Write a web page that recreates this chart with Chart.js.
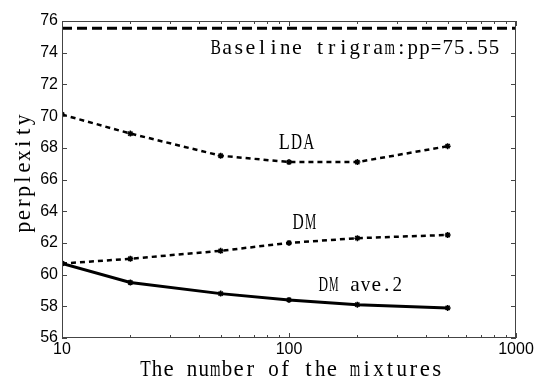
<!DOCTYPE html>
<html>
<head>
<meta charset="utf-8">
<script src="https://cdn.jsdelivr.net/npm/chart.js@4.4.1/dist/chart.umd.min.js"></script>
<style>
  html, body { margin: 0; padding: 0; background: #fff; }
  #wrap { width: 540px; height: 379px; }
</style>
</head>
<body>
<div id="wrap"><canvas id="chart"></canvas></div>
<script>
// Data
const mixtures = [10, 20, 50, 100, 200, 500];
const ldaValues = [70.1, 68.9, 67.5, 67.1, 67.1, 68.1];
const dmValues = [60.7, 61.0, 61.5, 62.0, 62.3, 62.5];
const dmAve2Values = [60.7, 59.5, 58.8, 58.4, 58.1, 57.9];
const baselineX = [10, 1000];
const baselineValue = 75.55;
const yTicks = [56, 58, 60, 62, 64, 66, 68, 70, 72, 74, 76];
const xTickLabels = [10, 100, 1000];

// Text annotations, anchored (centre, baseline) in data units
const annotations = [
    { text: 'Baseline trigram:pp=75.55', x: 195, y: 73.92, size: 22, advance: 11.6 },
    { text: 'LDA', x: 108, y: 67.92, size: 23, advance: 12.3 },
    { text: 'DM', x: 117, y: 62.86, size: 23, advance: 12.5 },
    { text: 'DM ave.2', x: 206, y: 58.97, size: 22, advance: 10.6 }
];
const xTitle = 'The number of the mixtures';
const yTitle = 'perplexity';

const serifFont = '"Liberation Serif", "DejaVu Serif", serif';

function toPoints(xs, ys) {
    return xs.map(function(x, i) { return { x: x, y: ys[i] }; });
}

// SimSun-like text: serif glyphs squeezed into a fixed advance, centred at cx
function drawMono(ctx, text, cx, baseY, size, advance) {
    ctx.font = size + 'px ' + serifFont;
    ctx.textAlign = 'center';
    ctx.textBaseline = 'alphabetic';
    const start = cx - text.length * advance / 2;
    for (let i = 0; i < text.length; i++) {
        const ch = text[i];
        const w = ctx.measureText(ch).width;
        const s = w > 0 ? Math.min(1, advance * 0.9 / w) : 1;
        ctx.save();
        ctx.translate(start + (i + 0.5) * advance, baseY);
        ctx.scale(s, 1);
        ctx.fillText(ch, 0, 0);
        ctx.restore();
    }
}

// Frame with inward ticks on all sides, annotations and axis titles
const frameTicks = {
    id: 'frameTicks',
    afterDatasetsDraw: function(chart) {
        const ctx = chart.ctx;
        const area = chart.chartArea;
        const xs = chart.scales.x;
        const ys = chart.scales.y;
        ctx.save();
        ctx.strokeStyle = '#444';
        ctx.lineWidth = 1;
        ctx.strokeRect(area.left + 0.5, area.top + 0.5, area.right - area.left - 1, area.bottom - area.top - 1);

        ctx.beginPath();
        yTicks.forEach(function(v) {
            const py = Math.round(ys.getPixelForValue(v)) + 0.5;
            ctx.moveTo(area.left, py); ctx.lineTo(area.left + 5, py);
            ctx.moveTo(area.right, py); ctx.lineTo(area.right - 5, py);
        });
        for (let d = 10; d < 1000; d *= 10) {
            for (let k = 1; k <= 10; k++) {
                const px = Math.round(xs.getPixelForValue(d * k)) + 0.5;
                const len = (k === 1 || k === 10) ? 5 : 3;
                ctx.moveTo(px, area.bottom); ctx.lineTo(px, area.bottom - len);
                ctx.moveTo(px, area.top); ctx.lineTo(px, area.top + len);
            }
        }
        ctx.stroke();

        ctx.fillStyle = '#000';
        annotations.forEach(function(a) {
            drawMono(ctx, a.text, xs.getPixelForValue(a.x), ys.getPixelForValue(a.y), a.size, a.advance);
        });

        // axis titles
        drawMono(ctx, xTitle, (area.left + area.right) / 2 + 2, 376, 23, 11.65);
        ctx.translate(30, (area.top + area.bottom) / 2 - 6);
        ctx.rotate(-Math.PI / 2);
        drawMono(ctx, yTitle, 0, 0, 23, 11.9);
        ctx.restore();
    }
};

const dottedStyle = {
    borderColor: '#000',
    backgroundColor: '#000',
    borderWidth: 2.5,
    borderDash: [5, 4],
    pointStyle: 'star',
    pointRadius: 3,
    pointBorderWidth: 1.5
};

new Chart(document.getElementById('chart'), {
    type: 'line',
    data: {
        datasets: [
            {
                label: 'Baseline',
                data: toPoints(baselineX, [baselineValue, baselineValue]),
                borderColor: '#000',
                borderWidth: 3,
                borderDash: [10, 5],
                pointRadius: 0
            },
            Object.assign({ label: 'LDA', data: toPoints(mixtures, ldaValues) }, dottedStyle),
            Object.assign({ label: 'DM', data: toPoints(mixtures, dmValues) }, dottedStyle),
            {
                label: 'DM ave.2',
                data: toPoints(mixtures, dmAve2Values),
                borderColor: '#000',
                backgroundColor: '#000',
                borderWidth: 3,
                pointStyle: 'star',
                pointRadius: 3,
                pointBorderWidth: 1.5
            }
        ]
    },
    options: {
        responsive: true,
        maintainAspectRatio: false,
        animation: false,
        layout: { padding: { top: 21, right: 24, left: 0, bottom: 0 } },
        plugins: {
            legend: { display: false },
            tooltip: { enabled: false }
        },
        scales: {
            x: {
                type: 'logarithmic',
                min: 10,
                max: 1000,
                afterFit: function(scale) { scale.height = 41; },
                afterBuildTicks: function(scale) {
                    scale.ticks = xTickLabels.map(function(v) { return { value: v }; });
                },
                grid: { display: false, drawTicks: false },
                border: { display: false },
                ticks: {
                    color: '#000',
                    padding: 2,
                    maxRotation: 0,
                    autoSkip: false,
                    font: { family: '"Liberation Sans", Arial, sans-serif', size: 16 },
                    callback: function(v) { return String(v); }
                }
            },
            y: {
                min: 56,
                max: 76,
                afterFit: function(scale) { scale.width = 62; },
                afterBuildTicks: function(scale) {
                    scale.ticks = yTicks.map(function(v) { return { value: v }; });
                },
                grid: { display: false, drawTicks: false },
                border: { display: false },
                ticks: {
                    color: '#000',
                    padding: 4,
                    font: { family: '"Liberation Sans", Arial, sans-serif', size: 16 }
                }
            }
        }
    },
    plugins: [frameTicks]
});
</script>
</body>
</html>
